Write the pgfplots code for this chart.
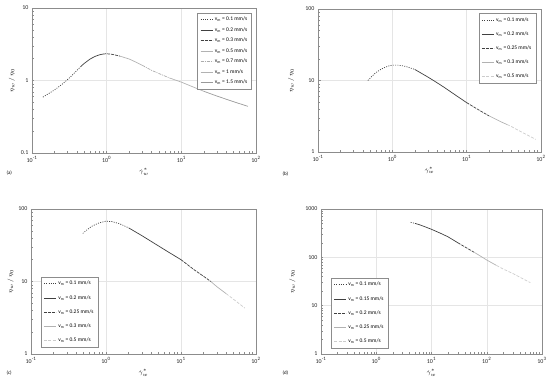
\documentclass[border=0pt]{standalone}
\usepackage{fontspec}
\setmainfont{Carlito}
\usepackage{pgfplots}
\pgfplotsset{compat=1.18}
\definecolor{dk}{gray}{0.25}
\definecolor{lg}{gray}{0.70}
\definecolor{lgg}{gray}{0.80}
\definecolor{mg}{gray}{0.60}
\definecolor{frm}{gray}{0.55}
\definecolor{gridc}{gray}{0.90}
\pgfplotsset{
  panel/.style={
    scale only axis, anchor=south west,
    log basis x=10, log basis y=10,
    axis line style={frm, line width=0.8pt},
    tick pos=left, tick style={frm, line width=0.4pt},
    major tick length=2.5bp, minor tick length=1.6bp,
    grid=major, major grid style={gridc, line width=0.4pt},
    xticklabel={10\textsuperscript{\pgfmathparse{int(round(\tick))}\pgfmathresult}},
    log ticks with fixed point,
    /pgf/number format/assume math mode=true,
    /pgf/number format/1000 sep={},
    ticklabel style={font=\fontsize{6}{7}\selectfont, text=black!85},
    label style={font=\fontsize{6.5}{7}\selectfont},
    xlabel={$\dot{\gamma}_{w}^{*}$},
    ylabel={$\eta_{w}\,/\,\eta_{0}$},
    xlabel style={at={(axis description cs:0.5,-0.13)}, anchor=center},
    legend style={font=\fontsize{5.5}{6}\selectfont, draw=frm, line width=0.5pt,
      inner xsep=2.5bp, inner ysep=2bp},
    legend cell align=left,
    legend image code/.code={\draw[##1] (0bp,0bp) -- (12bp,0bp);},
    every axis plot/.append style={line width=0.7pt, no marks},
  },
  s1/.style={dk, dash pattern=on 1bp off 1.3bp},
  s2/.style={dk, solid},
  s3/.style={dk, dash pattern=on 3bp off 1bp},
  s4/.style={lg, solid},
  s5/.style={lgg, dash pattern=on 3bp off 1.5bp},
}
\begin{document}
\begin{tikzpicture}
\path[use as bounding box] (0,0) rectangle (550bp,383bp);
% (a)
\begin{loglogaxis}[panel, at={(32bp,230bp)}, width=224bp, height=145bp,
  xmin=0.1, xmax=100, ymin=0.1, ymax=10,
  ylabel style={at={(axis description cs:-0.09,0.5)}, anchor=center},
  legend style={at={(0.982,0.966)}, anchor=north east, row sep=1.2bp}]
\addplot[s1] coordinates {(0.14,0.59) (0.2,0.74) (0.25,0.88) (0.3,1.03) (0.35,1.2) (0.4,1.38) (0.45,1.56)};
\addlegendentry{v\textsubscript{m} = 0.1 mm/s}
\addplot[s2] coordinates {(0.45,1.56) (0.5,1.72) (0.6,1.98) (0.7,2.15) (0.8,2.26) (0.9,2.32)};
\addlegendentry{v\textsubscript{m} = 0.2 mm/s}
\addplot[s3] coordinates {(0.9,2.32) (1.0,2.34) (1.2,2.29) (1.5,2.17)};
\addlegendentry{v\textsubscript{m} = 0.3 mm/s}
\addplot[lg] coordinates {(1.5,2.17) (2,1.98) (2.5,1.78) (3,1.62)};
\addlegendentry{v\textsubscript{m} = 0.5 mm/s}
\addplot[gray!65, dash pattern=on 3bp off 1bp on 1bp off 1bp] coordinates {(3,1.62) (4,1.38) (5,1.25) (7,1.08)};
\addlegendentry{v\textsubscript{m} = 0.7 mm/s}
\addplot[gray!60] coordinates {(7,1.08) (10,0.95) (15,0.80) (20,0.71)};
\addlegendentry{v\textsubscript{m} = 1 mm/s}
\addplot[mg] coordinates {(20,0.71) (30,0.61) (50,0.51) (78,0.44)};
\addlegendentry{v\textsubscript{m} = 1.5 mm/s}
\end{loglogaxis}
% (b)
\begin{loglogaxis}[panel, at={(318bp,231bp)}, width=223bp, height=143bp,
  xmin=0.1, xmax=100, ymin=1, ymax=100,
  ylabel style={at={(axis description cs:-0.12,0.5)}, anchor=center},
  legend style={at={(0.978,0.972)}, anchor=north east, row sep=4.8bp}]
\addplot[s1] coordinates {(0.47,10.0) (0.52,11.2) (0.6,12.9) (0.7,14.3) (0.8,15.3) (0.9,16.0) (1.0,16.4) (1.2,16.4) (1.5,15.8) (2,14.3)};
\addlegendentry{v\textsubscript{m} = 0.1 mm/s}
\addplot[s2] coordinates {(2,14.3) (3,11.2) (4,9.3) (5,8.0) (7,6.3) (10,4.9)};
\addlegendentry{v\textsubscript{m} = 0.2 mm/s}
\addplot[s3] coordinates {(10,4.9) (15,3.8) (20,3.2)};
\addlegendentry{v\textsubscript{m} = 0.25 mm/s}
\addplot[s4] coordinates {(20,3.2) (30,2.6) (35,2.42)};
\addlegendentry{v\textsubscript{m} = 0.3 mm/s}
\addplot[s5] coordinates {(35,2.42) (40,2.27) (50,2.0) (85,1.5)};
\addlegendentry{v\textsubscript{m} = 0.5 mm/s}
\end{loglogaxis}
% (c)
\begin{loglogaxis}[panel, at={(31bp,29bp)}, width=225bp, height=145bp,
  xmin=0.1, xmax=100, ymin=1, ymax=100,
  ylabel style={at={(axis description cs:-0.09,0.5)}, anchor=center},
  legend style={at={(0.044,0.048)}, anchor=south west, row sep=4.8bp}]
\addplot[s1] coordinates {(0.49,46) (0.55,51) (0.65,58) (0.8,64) (1.0,68) (1.2,67) (1.5,63) (2,55)};
\addlegendentry{v\textsubscript{m} = 0.1 mm/s}
\addplot[s2] coordinates {(2,55) (3,43) (5,31) (7,25) (10,20)};
\addlegendentry{v\textsubscript{m} = 0.2 mm/s}
\addplot[s3] coordinates {(10,20) (15,14.5) (20,11.8) (25,10.0)};
\addlegendentry{v\textsubscript{m} = 0.25 mm/s}
\addplot[s4] coordinates {(25,10.0) (30,8.5) (40,6.8)};
\addlegendentry{v\textsubscript{m} = 0.3 mm/s}
\addplot[s5] coordinates {(40,6.8) (50,5.7) (71,4.3)};
\addlegendentry{v\textsubscript{m} = 0.5 mm/s}
\end{loglogaxis}
% (d)
\begin{loglogaxis}[panel, at={(321bp,29bp)}, width=221bp, height=145bp,
  xmin=0.1, xmax=1000, ymin=1, ymax=1000,
  ylabel style={at={(axis description cs:-0.13,0.5)}, anchor=center},
  legend style={at={(0.045,0.041)}, anchor=south west, row sep=4.8bp}]
\addplot[s1] coordinates {(4.2,530) (5,505)};
\addlegendentry{v\textsubscript{m} = 0.1 mm/s}
\addplot[s2] coordinates {(5,505) (6,475) (8,420) (10,380) (15,310) (20,265) (30,200)};
\addlegendentry{v\textsubscript{m} = 0.15 mm/s}
\addplot[s3] coordinates {(30,200) (40,165) (50,142) (60,126)};
\addlegendentry{v\textsubscript{m} = 0.2 mm/s}
\addplot[s4] coordinates {(60,126) (75,108) (100,88) (150,68)};
\addlegendentry{v\textsubscript{m} = 0.25 mm/s}
\addplot[s5] coordinates {(150,68) (200,57) (300,46) (450,36) (615,30)};
\addlegendentry{v\textsubscript{m} = 0.5 mm/s}
\end{loglogaxis}
\node[font=\fontsize{5}{6}\selectfont, anchor=west] at (3bp,210bp) {(a)};
\node[font=\fontsize{5}{6}\selectfont, anchor=west] at (279bp,209bp) {(b)};
\node[font=\fontsize{5}{6}\selectfont, anchor=west] at (3bp,10bp) {(c)};
\node[font=\fontsize{5}{6}\selectfont, anchor=west] at (279bp,10bp) {(d)};
\end{tikzpicture}
\end{document}
